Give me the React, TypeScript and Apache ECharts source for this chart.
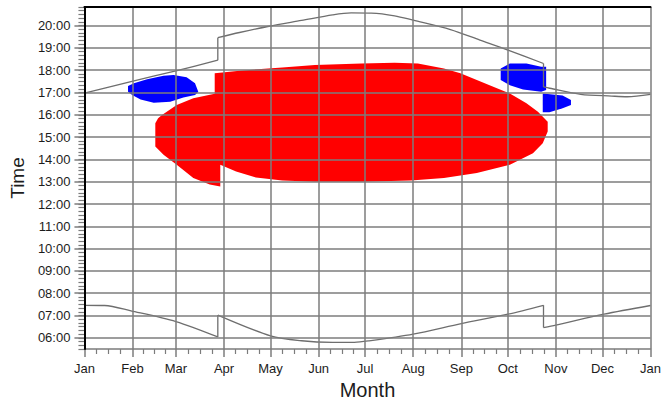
import React, { useEffect, useRef } from "react";
import * as echarts from "echarts";

// ---- axis definitions ----
const monthStarts = [0, 31, 59, 90, 120, 151, 181, 212, 243, 273, 304, 334, 365];
const monthLabels = ["Jan", "Feb", "Mar", "Apr", "May", "Jun", "Jul", "Aug", "Sep", "Oct", "Nov", "Dec", "Jan"];
const hourTicks = [6, 7, 8, 9, 10, 11, 12, 13, 14, 15, 16, 17, 18, 19, 20];
const hourLabels = ["06:00", "07:00", "08:00", "09:00", "10:00", "11:00", "12:00", "13:00", "14:00", "15:00", "16:00", "17:00", "18:00", "19:00", "20:00"];

// ---- series data: [day of year, hour] ----
const sunsetWinter = [[0, 16.97], [30, 17.49], [59, 17.97], [86, 18.45]];
const sunsetSummer = [
  [86, 19.46], [100, 19.69], [119, 19.97], [140, 20.23], [160, 20.48], [172, 20.57], [185, 20.56],
  [200, 20.44], [212, 20.24], [236, 19.82], [255, 19.35], [274, 18.88], [296, 18.3],
];
const sunsetAutumn = [[296, 17.25], [300, 17.19], [320, 16.92], [340, 16.84], [350, 16.81], [365, 16.92]];
const sunriseWinter = [[0, 7.46], [13, 7.45], [30, 7.21], [59, 6.73], [86, 6.04]];
const sunriseSummer = [
  [86, 7.02], [120, 6.09], [140, 5.87], [160, 5.8], [174, 5.8], [183, 5.86], [212, 6.17],
  [243, 6.64], [273, 7.06], [296, 7.46],
];
const sunriseAutumn = [[296, 6.46], [304, 6.57], [335, 7.06], [365, 7.45]];

const redRegion = [
  [45.7, 15.62], [47.5, 15.85], [50, 15.99], [59.5, 16.44], [70.2, 16.74], [84, 16.94],
  [84, 17.86], [100, 17.98], [127.6, 18.12], [148.6, 18.23], [178.6, 18.3], [200, 18.33],
  [215, 18.3], [231.8, 18.08], [242.4, 17.86], [253, 17.56], [263.6, 17.26], [274.3, 16.96],
  [285, 16.52], [292.4, 16.14], [298.7, 15.69], [298.7, 15.25], [295.5, 14.73], [289.2, 14.28],
  [274.3, 13.76], [253, 13.39], [231.8, 13.17], [210.5, 13.05], [178.6, 13.0], [148.6, 13.0],
  [127.6, 13.06], [110.6, 13.19], [97.8, 13.46], [87.6, 13.76],
  [87.6, 12.79], [80.8, 12.87], [70.2, 13.17], [59.5, 13.76], [51, 14.21], [45.7, 14.58],
];
const blueFebMar = [
  [28.1, 17.29], [31.9, 17.41], [40.4, 17.59], [51, 17.75], [57.4, 17.78], [65.9, 17.68],
  [71.3, 17.41], [73.4, 17.03], [71.3, 16.89], [63.8, 16.78], [55.3, 16.59], [44.7, 16.54],
  [36.2, 16.69], [30.8, 16.89], [28.1, 17.03],
];
const blueOct = [
  [268.4, 18.08], [274.3, 18.3], [285, 18.3], [294.5, 18.15], [297.7, 18.15], [297.7, 17.11],
  [294.5, 17.03], [282.8, 17.14], [274.3, 17.33], [268.4, 17.56],
];
const blueNov = [
  [295.5, 16.96], [308.3, 16.86], [313.7, 16.66], [313.7, 16.44], [308.3, 16.29], [299.8, 16.11],
  [295.5, 16.11],
];

const FONT = "Liberation Sans, Arial, sans-serif";
const GRID = "#7c7c7c";
const TEXT = "#1c1c1c";
const CURVE = "#6e6e6e";

function polygonSeries(name: string, shapes: number[][][], color: string) {
  return {
    type: "custom",
    name,
    xAxisIndex: 0,
    yAxisIndex: 0,
    z: 2,
    data: shapes.map((s) => s[0]),
    renderItem: (params: any, api: any) => ({
      type: "polygon",
      shape: { points: shapes[params.dataIndex].map((p) => api.coord(p)) },
      style: { fill: color },
    }),
  };
}

function curveSeries(name: string, data: number[][], smooth: boolean) {
  return {
    type: "line",
    name,
    data,
    showSymbol: false,
    smooth: smooth ? 0.3 : false,
    z: 3,
    lineStyle: { color: CURVE, width: 1.3 },
  };
}

export default function App() {
  const ref = useRef<HTMLDivElement>(null);
  useEffect(() => {
    if (!ref.current) return;
    const chart = echarts.init(ref.current, undefined, { renderer: "svg" });
    const minorX: number[] = [];
    for (let i = 0; i < monthStarts.length - 1; i++) {
      const len = monthStarts[i + 1] - monthStarts[i];
      for (let k = 1; k < 4; k++) minorX.push(monthStarts[i] + (len * k) / 4);
    }
    const last = (a: number[][]) => a[a.length - 1];
    chart.setOption({
      animation: false,
      grid: { left: 80, right: 12, top: 7, bottom: 56 },
      xAxis: [
        {
          type: "value",
          min: 0,
          max: 365,
          position: "bottom",
          z: 5,
          name: "Month",
          nameLocation: "middle",
          nameGap: 29,
          nameTextStyle: { fontFamily: FONT, fontSize: 20, color: TEXT },
          axisLine: { show: true, lineStyle: { color: GRID, width: 1.5 } },
          axisTick: { show: true, length: 8, customValues: monthStarts, lineStyle: { color: GRID, width: 1.5 } },
          axisLabel: {
            customValues: monthStarts,
            margin: 13,
            fontFamily: FONT,
            fontSize: 13,
            color: TEXT,
            formatter: (v: number) => {
              const i = monthStarts.indexOf(Math.round(v));
              return i >= 0 ? monthLabels[i] : "";
            },
          },
          splitLine: { show: true, lineStyle: { color: GRID, width: 1.5 } },
        },
        {
          type: "value",
          min: 0,
          max: 365,
          position: "bottom",
          axisLine: { show: false },
          axisTick: { show: true, length: 5, customValues: minorX, lineStyle: { color: GRID, width: 1.2 } },
          axisLabel: { show: false },
          splitLine: { show: false },
        },
        {
          type: "value",
          min: 0,
          max: 365,
          position: "top",
          z: 6,
          axisLine: { show: true, lineStyle: { color: "#000", width: 2 } },
          axisTick: { show: false },
          axisLabel: { show: false },
          splitLine: { show: false },
        },
      ],
      yAxis: [
        {
          type: "value",
          min: 5.5,
          max: 1250 / 60,
          position: "left",
          z: 5,
          name: "Time",
          nameLocation: "middle",
          nameGap: 54,
          nameTextStyle: { fontFamily: FONT, fontSize: 19, color: TEXT },
          axisLine: { show: true, lineStyle: { color: GRID, width: 1.5 } },
          axisTick: { show: true, length: 10, customValues: hourTicks, lineStyle: { color: GRID, width: 1.5 } },
          axisLabel: {
            customValues: hourTicks,
            margin: 14,
            fontFamily: FONT,
            fontSize: 13,
            color: TEXT,
            formatter: (v: number) => {
              const i = hourTicks.indexOf(Math.round(v));
              return i >= 0 ? hourLabels[i] : "";
            },
          },
          splitLine: { show: true, lineStyle: { color: GRID, width: 1.5 } },
        },
        {
          type: "value",
          min: 330,
          max: 1250,
          interval: 10,
          position: "left",
          axisLine: { show: false },
          axisTick: { show: true, length: 6, lineStyle: { color: GRID, width: 1.2 } },
          axisLabel: { show: false },
          splitLine: { show: false },
        },
        {
          type: "value",
          min: 5.5,
          max: 1250 / 60,
          position: "right",
          z: 6,
          axisLine: { show: true, lineStyle: { color: "#000", width: 2 } },
          axisTick: { show: false },
          axisLabel: { show: false },
          splitLine: { show: false },
        },
      ],
      series: [
        polygonSeries("red", [redRegion], "#ff0000"),
        polygonSeries("blue", [blueFebMar, blueOct, blueNov], "#0000ff"),
        curveSeries("sunset winter", sunsetWinter, true),
        curveSeries("sunset summer", sunsetSummer, true),
        curveSeries("sunset autumn", sunsetAutumn, true),
        curveSeries("sunset dst start", [last(sunsetWinter), sunsetSummer[0]], false),
        curveSeries("sunset dst end", [last(sunsetSummer), sunsetAutumn[0]], false),
        curveSeries("sunrise winter", sunriseWinter, true),
        curveSeries("sunrise summer", sunriseSummer, true),
        curveSeries("sunrise autumn", sunriseAutumn, true),
        curveSeries("sunrise dst start", [last(sunriseWinter), sunriseSummer[0]], false),
        curveSeries("sunrise dst end", [last(sunriseSummer), sunriseAutumn[0]], false),
      ],
    });
    return () => chart.dispose();
  }, []);
  return <div ref={ref} style={{ position: "absolute", left: 0, top: 0, width: 664, height: 405 }} />;
}
